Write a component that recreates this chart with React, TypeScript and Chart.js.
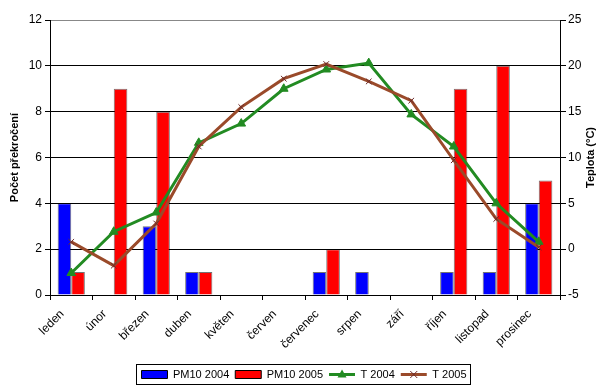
import React, { useEffect, useRef } from 'react';
import { Chart, registerables } from 'chart.js';

Chart.register(...registerables);

const FONT = "'Liberation Sans', Arial, sans-serif";

const months = ['leden', 'únor', 'březen', 'duben', 'květen', 'červen', 'červenec', 'srpen', 'září', 'říjen', 'listopad', 'prosinec'];
const pm10_2004 = [4, 0, 3, 1, 0, 0, 1, 1, 0, 1, 1, 4];
const pm10_2005 = [1, 9, 8, 1, 0, 0, 2, 0, 0, 9, 10, 5];
const t2004 = [-2.6, 1.9, 4.0, 11.6, 13.7, 17.5, 19.6, 20.3, 14.7, 11.2, 5.0, 0.8];
const t2005 = [0.8, -1.8, 2.8, 11.2, 15.5, 18.6, 20.2, 18.3, 16.2, 9.7, 3.3, 0.2];
const seriesNames = ['PM10 2004', 'PM10 2005', 'T 2004', 'T 2005'];
const leftRange = [0, 12, 2];
const rightRange = [-5, 25, 5];
const leftTitle = 'Počet překročení';
const rightTitle = 'Teplota (°C)';

const BLUE = '#0000FF';
const RED = '#FF0000';
const GREEN = '#228B22';
const BROWN = '#9A4A2A';

function drawMarker(ctx: CanvasRenderingContext2D, kind: string, x: number, y: number, color: string) {
  ctx.save();
  if (kind === 'triangle') {
    const r = 5;
    ctx.fillStyle = color;
    ctx.beginPath();
    ctx.moveTo(x, y - r);
    ctx.lineTo(x + r * 0.9, y + r * 0.6);
    ctx.lineTo(x - r * 0.9, y + r * 0.6);
    ctx.closePath();
    ctx.fill();
  } else {
    const r = 3.5;
    ctx.strokeStyle = '#6b2a2a';
    ctx.lineWidth = 1;
    ctx.beginPath();
    ctx.moveTo(x - r, y - r);
    ctx.lineTo(x + r, y + r);
    ctx.moveTo(x + r, y - r);
    ctx.lineTo(x - r, y + r);
    ctx.stroke();
  }
  ctx.restore();
}

const decor = {
  id: 'decor',
  afterLayout(chart: any) {
    const lg = chart.legend;
    if (lg) {
      lg.top += 3;
      lg.bottom += 3;
    }
  },
  afterDraw(chart: any) {
    const { ctx, chartArea } = chart;
    ctx.save();
    ctx.font = `bold 11px ${FONT}`;
    ctx.fillStyle = '#000';
    ctx.textAlign = 'center';
    ctx.textBaseline = 'middle';
    ctx.translate(591, (chartArea.top + chartArea.bottom) / 2);
    ctx.rotate(-Math.PI / 2);
    ctx.fillText(rightTitle, 0, 0);
    ctx.restore();

    const lg = chart.legend;
    if (!lg || !lg.legendHitBoxes) return;
    const boxes = lg.legendHitBoxes;
    const items = lg.legendItems;
    let minL = Infinity, maxR = -Infinity, minT = Infinity, maxB = -Infinity;
    boxes.forEach((hb: any, i: number) => {
      minL = Math.min(minL, hb.left);
      maxR = Math.max(maxR, hb.left + hb.width);
      minT = Math.min(minT, hb.top);
      maxB = Math.max(maxB, hb.top + hb.height);
      const it = items[i];
      if (it.datasetIndex >= 2) {
        const color = it.datasetIndex === 2 ? GREEN : BROWN;
        const cy = hb.top + hb.height / 2;
        ctx.save();
        ctx.strokeStyle = color;
        ctx.lineWidth = 3;
        ctx.beginPath();
        ctx.moveTo(hb.left, cy);
        ctx.lineTo(hb.left + 26, cy);
        ctx.stroke();
        ctx.restore();
        drawMarker(ctx, it.datasetIndex === 2 ? 'triangle' : 'cross', hb.left + 13, cy, color);
      }
    });
    ctx.save();
    ctx.strokeStyle = '#000';
    ctx.lineWidth = 1;
    ctx.strokeRect(Math.round(minL - 5) + 0.5, Math.round(minT - 5) + 0.5, Math.round(maxR - minL + 9), Math.round(maxB - minT + 9));
    ctx.restore();
  },
};

export default function App() {
  const ref = useRef<HTMLCanvasElement | null>(null);
  useEffect(() => {
    document.body.style.margin = '0';
    const canvas = ref.current;
    if (!canvas) return;
    const tickFont = { family: FONT, size: 12 };
    const chart = new Chart(canvas, {
      type: 'bar',
      data: {
        labels: months,
        datasets: [
          {
            type: 'bar',
            label: seriesNames[0],
            data: pm10_2004,
            backgroundColor: BLUE,
            borderColor: 'rgba(0,0,0,0.55)',
            borderWidth: 1,
            yAxisID: 'y',
            order: 2,
            categoryPercentage: 0.64,
            barPercentage: 1,
          },
          {
            type: 'bar',
            label: seriesNames[1],
            data: pm10_2005,
            backgroundColor: RED,
            borderColor: 'rgba(0,0,0,0.55)',
            borderWidth: 1,
            yAxisID: 'y',
            order: 2,
            categoryPercentage: 0.64,
            barPercentage: 1,
          },
          {
            type: 'line',
            label: seriesNames[2],
            data: t2004,
            borderColor: GREEN,
            backgroundColor: GREEN,
            borderWidth: 3,
            pointStyle: 'triangle',
            pointRadius: 5,
            pointBackgroundColor: GREEN,
            pointBorderColor: GREEN,
            pointBorderWidth: 1,
            tension: 0,
            yAxisID: 'y2',
            order: 1,
          } as any,
          {
            type: 'line',
            label: seriesNames[3],
            data: t2005,
            borderColor: BROWN,
            backgroundColor: BROWN,
            borderWidth: 3,
            pointStyle: 'crossRot',
            pointRadius: 4,
            pointBorderColor: '#6b2a2a',
            pointBorderWidth: 1,
            tension: 0,
            yAxisID: 'y2',
            order: 0,
          } as any,
        ],
      },
      options: {
        animation: false,
        responsive: false,
        devicePixelRatio: 1,
        layout: { padding: { left: 4, right: 0, top: 20, bottom: 0 } },
        plugins: {
          tooltip: { enabled: false },
          legend: {
            display: true,
            position: 'bottom',
            labels: {
              font: { family: FONT, size: 11 },
              color: '#000',
              boxWidth: 26,
              boxHeight: 8,
              padding: 6,
              sort: (a: any, b: any) => a.datasetIndex - b.datasetIndex,
              generateLabels: (ch: any) => {
                const items = (Chart.defaults.plugins.legend.labels as any).generateLabels(ch);
                items.forEach((it: any) => {
                  if (it.datasetIndex >= 2) {
                    it.fillStyle = 'rgba(0,0,0,0)';
                    it.strokeStyle = 'rgba(0,0,0,0)';
                    it.lineWidth = 0;
                  } else {
                    it.strokeStyle = '#000';
                    it.lineWidth = 1;
                  }
                });
                return items;
              },
            },
          },
        },
        scales: {
          x: {
            type: 'category',
            offset: true,
            grid: { display: true, drawOnChartArea: false, drawTicks: true, tickLength: 5, color: '#000', offset: true },
            border: { color: '#000', width: 1 },
            ticks: { font: tickFont, color: '#000', minRotation: 45, maxRotation: 45, autoSkip: false, padding: 7, labelOffset: -9 },
            afterFit: (s: any) => { s.height = 65; },
          },
          y: {
            position: 'left',
            min: leftRange[0],
            max: leftRange[1],
            ticks: { stepSize: leftRange[2], font: tickFont, color: '#000', padding: 3 },
            grid: {
              color: (c: any) => (c.tick && c.tick.value === leftRange[1] ? '#888' : '#000'),
              tickColor: '#000',
              lineWidth: 1,
              tickLength: 5,
            },
            border: { color: '#000', width: 1 },
            title: { display: true, text: leftTitle, font: { family: FONT, size: 11, weight: 'bold' }, color: '#000', padding: { top: 4, bottom: 0 } },
            afterFit: (s: any) => { s.width = 46; },
          },
          y2: {
            position: 'right',
            min: rightRange[0],
            max: rightRange[1],
            ticks: { stepSize: rightRange[2], font: tickFont, color: '#000', padding: 2 },
            grid: { drawOnChartArea: false, color: '#000', tickLength: 6 },
            border: { color: '#000', width: 1 },
            afterFit: (s: any) => { s.width = 44; },
          },
        },
      },
      plugins: [decor],
    } as any);
    return () => chart.destroy();
  }, []);
  return <canvas ref={ref} width={604} height={387} style={{ display: 'block' }} />;
}
